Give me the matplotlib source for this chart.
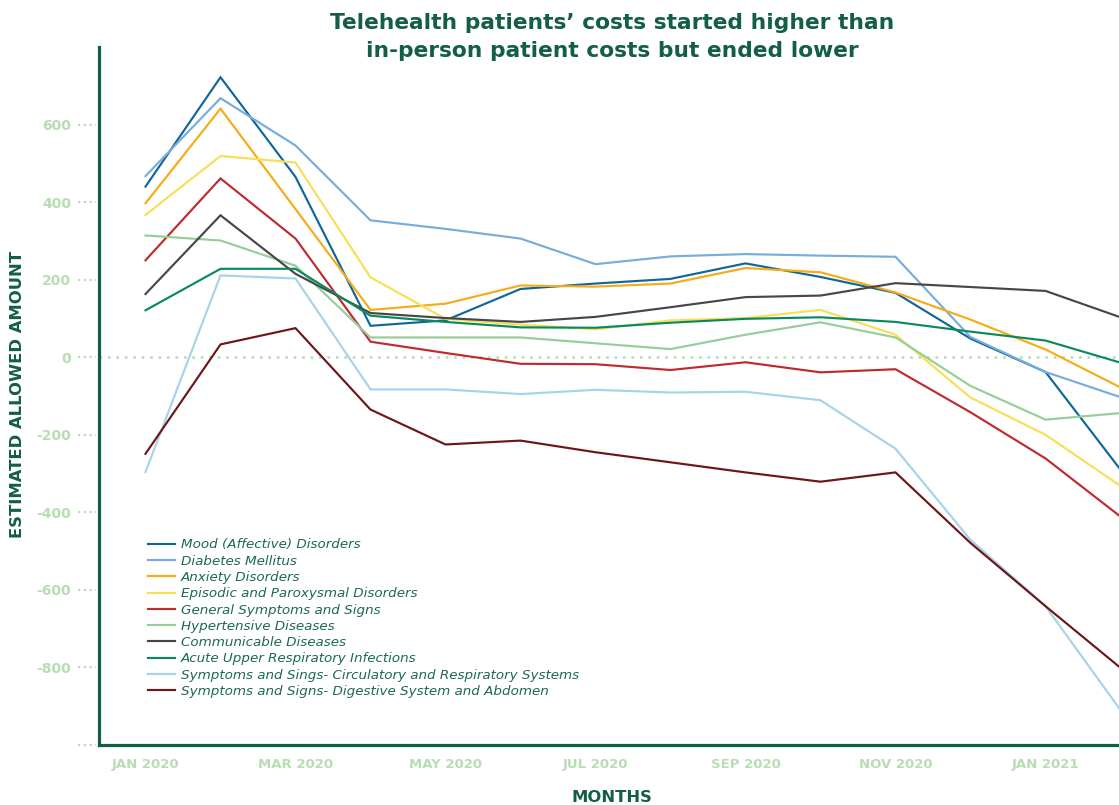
import numpy as np
import matplotlib
matplotlib.use("Agg")
import matplotlib.pyplot as plt
import matplotlib.transforms as mtransforms

# ---------------- data ----------------
months = ["Jan 2020", "Feb 2020", "Mar 2020", "Apr 2020", "May 2020", "Jun 2020",
          "Jul 2020", "Aug 2020", "Sep 2020", "Oct 2020", "Nov 2020", "Dec 2020",
          "Jan 2021", "Feb 2021"]
xtick_labels = ["JAN 2020", "MAR 2020", "MAY 2020", "JUL 2020", "SEP 2020", "NOV 2020", "JAN 2021"]
xtick_idx = [0, 2, 4, 6, 8, 10, 12]
yticks = [-1000, -800, -600, -400, -200, 0, 200, 400, 600]
ytick_labels = ["", "-800", "-600", "-400", "-200", "0", "200", "400", "600"]

mood = [440, 722, 465, 81, 95, 176, 190, 202, 242, 207, 166, 48, -38, -290]
diabetes = [467, 668, 546, 353, 331, 306, 240, 260, 266, 262, 259, 52, -38, -103]
anxiety = [397, 641, 382, 122, 138, 185, 182, 190, 230, 219, 167, 97, 20, -78]
episodic = [367, 519, 502, 206, 99, 84, 72, 95, 101, 122, 58, -104, -200, -332]
general = [250, 461, 306, 40, 11, -17, -18, -33, -13, -39, -31, -142, -261, -411]
hypertensive = [314, 301, 236, 51, 51, 51, 36, 21, 58, 90, 51, -74, -161, -144]
communicable = [163, 366, 215, 114, 101, 91, 104, 129, 155, 159, 191, 181, 171, 103]
acute = [121, 228, 228, 107, 91, 77, 76, 89, 99, 103, 91, 66, 43, -14]
circulatory = [-296, 211, 203, -83, -83, -95, -84, -91, -89, -111, -236, -471, -642, -910]
digestive = [-249, 33, 75, -135, -225, -215, -245, -271, -297, -321, -297, -479, -642, -801]

series_names = ["Mood (Affective) Disorders", "Diabetes Mellitus", "Anxiety Disorders",
                "Episodic and Paroxysmal Disorders", "General Symptoms and Signs",
                "Hypertensive Diseases", "Communicable Diseases",
                "Acute Upper Respiratory Infections",
                "Symptoms and Sings- Circulatory and Respiratory Systems",
                "Symptoms and Signs- Digestive System and Abdomen"]
series_values = [mood, diabetes, anxiety, episodic, general, hypertensive,
                 communicable, acute, circulatory, digestive]
series_colors = ["#0f6799", "#78acdb", "#f6ab17", "#f8df55", "#bf2a2e",
                 "#97cd98", "#474747", "#0a8a5c", "#a6d3e9", "#6d1618"]

DARK = "#135e46"
LIGHT = "#b8ddb3"

# ---------------- figure ----------------
fig = plt.figure(figsize=(11.19, 8.05), dpi=100)
ax = fig.add_axes([99 / 1119, 1 - 745 / 805, 1 - 99 / 1119, (745 - 47) / 805])

x = np.arange(len(months))
for name, vals, col in zip(series_names, series_values, series_colors):
    ax.plot(x, vals, color=col, lw=1.55, label=name, solid_joinstyle="miter")

ax.set_xlim(-0.62, 12.98)
ax.set_ylim(-1000, 800)

# zero line
ax.axhline(0, color=LIGHT, lw=1.9, linestyle=(0, (1, 2.2)), zorder=0.5)

# ticks
ax.set_yticks(yticks)
ax.set_yticklabels(ytick_labels)
ax.set_xticks([x[i] for i in xtick_idx])
ax.set_xticklabels(xtick_labels)
ax.tick_params(axis="y", length=0, pad=20, labelsize=10, labelcolor=LIGHT)
ax.tick_params(axis="x", length=0, pad=9, labelsize=9.5, labelcolor=LIGHT)
for lab in ax.get_yticklabels() + ax.get_xticklabels():
    lab.set_fontweight("bold")

# dotted tick marks
trans = mtransforms.blended_transform_factory(ax.transAxes, ax.transData)
for v in yticks:
    ax.plot([-0.021, -0.003], [v, v], transform=trans, color=LIGHT, lw=1.6,
            linestyle=(0, (1, 1.6)), clip_on=False)

for s in ["top", "right"]:
    ax.spines[s].set_visible(False)
for s in ["left", "bottom"]:
    ax.spines[s].set_color(DARK)
    ax.spines[s].set_linewidth(2.3)

# legend
leg = ax.legend(loc="upper left", bbox_to_anchor=(0.048, 0.296), frameon=False,
                borderaxespad=0, borderpad=0, handlelength=2.0, handletextpad=0.45,
                labelspacing=0.245, prop={"size": 9.7, "style": "italic"},
                labelcolor="#1d6a4f")

# texts
fig.text(612 / 1119, 1 - 37 / 805,
         "Telehealth patients\u2019 costs started higher than\nin-person patient costs but ended lower",
         ha="center", va="center", fontsize=15.7, fontweight="bold", color=DARK,
         linespacing=1.5)
fig.text(612 / 1119, 1 - 797 / 805, "MONTHS", ha="center", va="center",
         fontsize=11.8, fontweight="bold", color=DARK)
fig.text(18 / 1119, 1 - 394 / 805, "ESTIMATED ALLOWED AMOUNT", ha="center", va="center",
         rotation=90, fontsize=11.8, fontweight="bold", color=DARK)

fig.savefig("out.png", dpi=100)
